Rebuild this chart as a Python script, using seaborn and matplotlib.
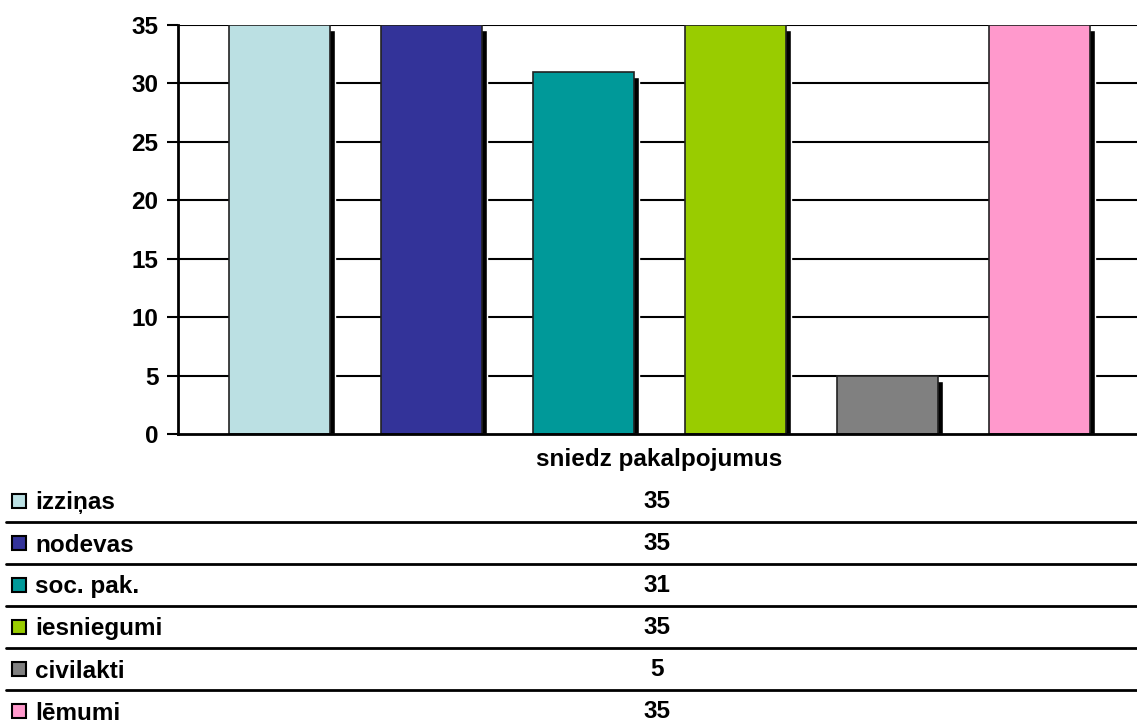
import numpy as np
import pandas as pd
import matplotlib
matplotlib.use("Agg")
import matplotlib.pyplot as plt
from matplotlib.lines import Line2D
from matplotlib.patches import Rectangle
import seaborn as sns

# data
series = ["izziņas", "nodevas", "soc. pak.", "iesniegumi", "civilakti", "lēmumi"]
values = [35, 35, 31, 35, 5, 35]
colors = ["#BBE0E3", "#333399", "#009999", "#99CC00", "#808080", "#FF99CC"]
category = "sniedz pakalpojumus"
yticks = [0, 5, 10, 15, 20, 25, 30, 35]

sns.set_style("white")
plt.rcParams["font.family"] = ["Liberation Sans", "DejaVu Sans"]
plt.rcParams["font.weight"] = "bold"
plt.rcParams["text.color"] = "black"
plt.rcParams["xtick.color"] = "black"
plt.rcParams["ytick.color"] = "black"

FS = 17.5
W, H = 1137, 724
fig = plt.figure(figsize=(W / 100, H / 100), dpi=100)
ax = fig.add_axes([178 / W, (H - 434) / H, (W - 178) / W, 409 / H])

df = pd.DataFrame({"serie": series, "value": values})
bw = 0.664
xs = np.arange(len(series))

# shadows behind the bars
dx, dy = 0.035, 0.45
ax.bar(xs + dx, np.array(values) - dy, width=bw, color="black", zorder=2)

sns.barplot(data=df, x="serie", y="value", hue="serie", palette=colors,
            saturation=1, width=bw, edgecolor="#222222", linewidth=1.2,
            legend=False, ax=ax, zorder=3)

ax.set_ylim(0, 35)
ax.set_xlim(-0.668, 5.642)
ax.set_yticks(yticks)
ax.set_yticklabels([str(t) for t in yticks], fontsize=FS, fontweight="bold")
for t in yticks[1:]:
    ax.axhline(t, color="black", lw=1.5, zorder=1)

ax.set_xticks([2.5])
ax.set_xticklabels([category], fontsize=FS, fontweight="bold")
ax.tick_params(axis="x", length=0, pad=10)
ax.tick_params(axis="y", direction="out", length=8, width=1.5, color="black", pad=6, left=True)
ax.set_xlabel("")
ax.set_ylabel("")
for s in ["top", "right"]:
    ax.spines[s].set_visible(False)
for s in ["left", "bottom"]:
    ax.spines[s].set_color("black")
    ax.spines[s].set_linewidth(2)
ax.spines["bottom"].set_zorder(5)

# data table
row_h = 42
y0 = 501
for i, (name, val, col) in enumerate(zip(series, values, colors)):
    yc = y0 + i * row_h
    fy = 1 - (yc + 2) / H
    fig.patches.append(Rectangle((12 / W, 1 - (yc + 7) / H), 14 / W, 14 / H,
                                 facecolor=col, edgecolor="black", lw=1.5,
                                 transform=fig.transFigure, figure=fig))
    fig.text(35 / W, fy, name, fontsize=FS, fontweight="bold", va="center", ha="left")
    fig.text(657 / W, 1 - (yc + 1) / H, str(val), fontsize=FS, fontweight="bold",
             va="center", ha="center")
    if i < len(series) - 1:
        ly = 1 - (yc + 21) / H
        fig.lines.append(Line2D([6 / W, 1], [ly, ly], color="black", lw=2,
                                transform=fig.transFigure, figure=fig))

fig.savefig("out.png", dpi=100)
